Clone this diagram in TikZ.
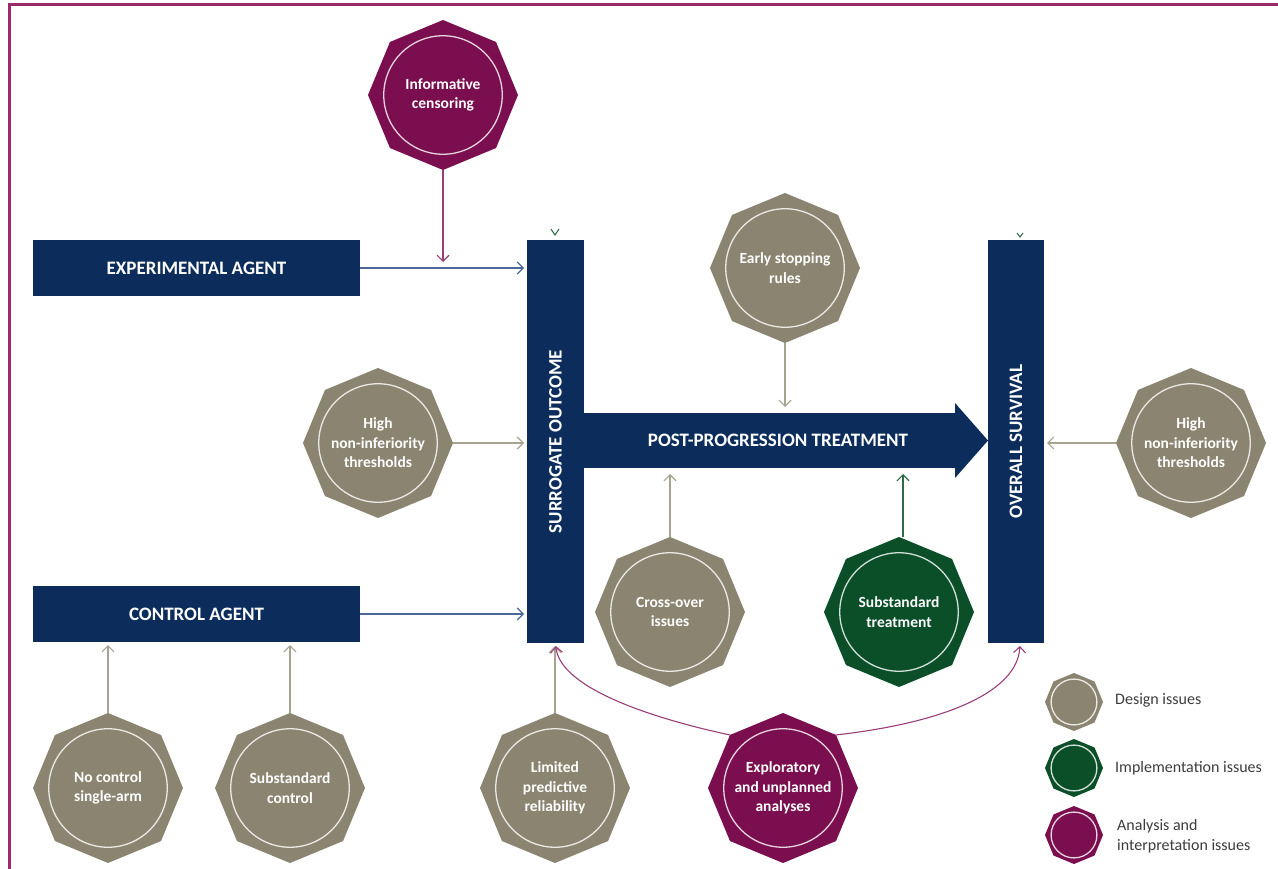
\documentclass[tikz,border=0pt]{standalone}
\usepackage{fontspec}
\setmainfont{Carlito}
\usetikzlibrary{shapes.geometric,arrows.meta,calc}
\definecolor{navy}{HTML}{0C2D5C}
\definecolor{taupe}{HTML}{8B8470}
\definecolor{plum}{HTML}{7A0E4F}
\definecolor{forest}{HTML}{0A4F28}
\definecolor{framec}{HTML}{9A2A6C}
\definecolor{legtext}{HTML}{3C3C3C}
\definecolor{blueln}{HTML}{4A6898}
\definecolor{grayln}{HTML}{A8A290}
\definecolor{plumln}{HTML}{9A3E7A}
\definecolor{greenln}{HTML}{2F6B45}
\newcommand\octo[6]{%
  \node[oct, fill=#5, minimum size=#4*2pt] (#1) at (#2,#3) {};
  \draw[white!82!#5, line width=1.3pt] (#1.center) circle[radius=#4*0.79pt];
  \node[octtext] at (#1.center) {#6};}
\begin{document}
\begin{tikzpicture}[x=1pt,y=-1pt,
  bar/.style={fill=navy, inner sep=0pt, outer sep=0pt},
  bartext/.style={text=white, font=\bfseries\fontsize{19}{22}\selectfont, inner sep=0pt},
  oct/.style={regular polygon, regular polygon sides=8, shape border rotate=22.5, inner sep=0pt, outer sep=0pt, draw=none},
  octtext/.style={text=white, font=\bfseries\fontsize{15.5}{19.5}\selectfont, align=center, inner sep=0pt},
  legend/.style={text=legtext, font=\fontsize{16}{20}\selectfont, align=left, inner sep=0pt, anchor=west},
  conn/.style={line width=1.1pt, -{Straight Barb[length=6pt,width=12pt]}, shorten >=3pt},
]
\useasboundingbox (0,0) rectangle (1278,869);
% frame
\draw[framec, line width=3pt] (9,869) -- (9,5) -- (1278,5);

% bars
\node[bar, minimum width=327pt, minimum height=56pt] (exp) at (196.5,268) {};
\node[bartext] at (exp.center) {EXPERIMENTAL AGENT};
\node[bar, minimum width=327pt, minimum height=56pt] (ctl) at (196.5,614) {};
\node[bartext] at (ctl.center) {CONTROL AGENT};
\node[bar, minimum width=57pt, minimum height=403pt] (sur) at (555.5,441.5) {};
\node[bartext, rotate=90] at (sur.center) {SURROGATE OUTCOME};
\node[bar, minimum width=56pt, minimum height=403pt] (os) at (1016,441.5) {};
\node[bartext, rotate=90] at (os.center) {OVERALL SURVIVAL};
\node[bar, minimum width=371pt, minimum height=55pt] (ppt) at (769.5,440.5) {};
\coordinate (ppttip) at (988,440.5);
\fill[navy] ($(ppt.north east)+(-1,0)$) -- ++(1,0) -- ++(0,-10) -- (ppttip) -- ($(ppt.south east)+(0,10)$) -- (ppt.south east) -- ++(-1,0) -- cycle;
\node[bartext] at (778,440.5) {POST-PROGRESSION TREATMENT};

% octagons
\octo{ic}{443}{95}{75}{plum}{Informative\\censoring}
\octo{es}{785}{268}{75}{taupe}{Early stopping\\rules}
\octo{hnl}{378}{443}{75}{taupe}{High\\non-inferiority\\thresholds}
\octo{hnr}{1191}{443}{75}{taupe}{High\\non-inferiority\\thresholds}
\octo{co}{670}{612}{75}{taupe}{Cross-over\\issues}
\octo{st}{899}{612}{75}{forest}{Substandard\\treatment}
\octo{nc}{108}{788}{75}{taupe}{No control\\single-arm}
\octo{sc}{290}{788}{75}{taupe}{Substandard\\control}
\octo{lp}{555}{788}{75}{taupe}{Limited\\predictive\\reliability}
\octo{ex}{783}{788}{75}{plum}{Exploratory\\and unplanned\\analyses}

% connectors
\draw[conn, blueln] (exp.east) -- (exp.east -| sur.west);
\draw[conn, blueln] (ctl.east) -- (ctl.east -| sur.west);
\draw[conn, plumln, shorten >=6pt] (ic.south) -- (ic.south |- exp.east);
\draw[conn, grayln] (hnl.east) -- (hnl.east -| sur.west);
\draw[conn, grayln] (hnr.west) -- (hnr.west -| os.east);
\draw[conn, grayln, shorten >=6pt] (es.south) -- (es.south |- ppt.north);
\draw[conn, grayln, shorten >=6pt] (co.north) -- (co.north |- ppt.south);
\draw[conn, greenln, shorten >=6pt] ($(st.north)+(4,0)$) -- ($(st.north |- ppt.south)+(4,0)$);
\draw[conn, grayln] (nc.north) -- (nc.north |- ctl.south);
\draw[conn, grayln] (sc.north) -- (sc.north |- ctl.south);
\draw[conn, grayln] (lp.north) -- (lp.north |- sur.south);
\draw[conn, plumln] (ex.135) .. controls (660,720) and (560,690) .. (sur.south);
\draw[conn, plumln] (ex.45) .. controls (950,722) and (1018,690) .. ($(os.south)+(4,0)$);

% small green marks atop the bars
\draw[greenln, line width=1pt] (551,229) -- (555,235) -- (559,229);
\draw[greenln, line width=1pt] (1017,233) -- (1020,237) -- (1023,233);

% legend
\octo{lg1}{1074}{702}{29}{taupe}{}
\octo{lg2}{1074}{768}{29}{forest}{}
\octo{lg3}{1074}{835}{29}{plum}{}
\node[legend] (l1) at (1115,700) {Design issues};
\node[legend] (l2) at (1115,768) {Implementation issues};
\node[legend] (l3) at (1117,836) {Analysis and\\interpretation issues};
\end{tikzpicture}
\end{document}
